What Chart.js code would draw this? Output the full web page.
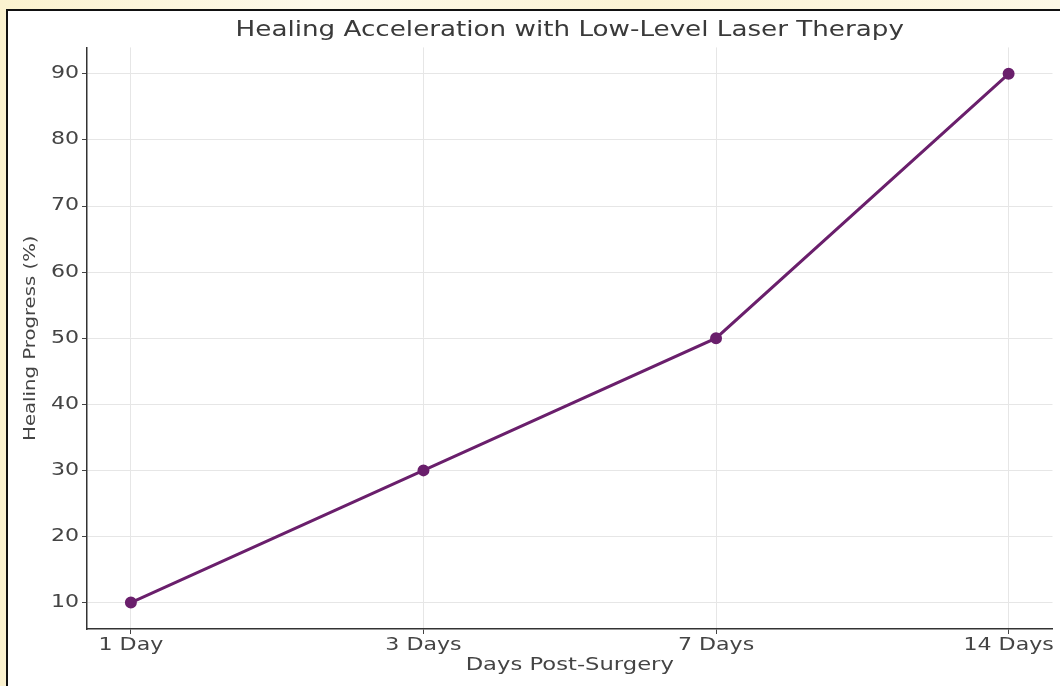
<!DOCTYPE html>
<html>
<head>
<meta charset="utf-8">
<script src="https://cdn.jsdelivr.net/npm/chart.js@4"></script>
<style>
  html, body { margin: 0; padding: 0; }
  body { width: 1060px; height: 686px; overflow: hidden; position: relative;
         background: linear-gradient(90deg, #fbf2cf 0%, #fdf9ea 30%, #fbf3d4 60%, #fdf8e6 100%); }
  #frame { position: absolute; left: 6px; top: 9px; width: 1100px; height: 800px;
           border: 2px solid #111; background: #fff; }
  #c { position: absolute; left: 0; top: 0; }
</style>
</head>
<body>
<div id="frame"></div>
<canvas id="c" width="1060" height="686"></canvas>
<script>
// data
const days = ["1 Day", "3 Days", "7 Days", "14 Days"];
const healing = [10, 30, 50, 90];
const yTicks = [10, 20, 30, 40, 50, 60, 70, 80, 90];

const lineColor = "#6a1f6c";
const font = "'DejaVu Sans', sans-serif";

// the reference text is stretched sideways; widen glyphs by font size
const stretchBySize = { 22: 1.19, 17: 1.3, 18: 1.26, 16: 1.23 };

const widerText = {
  id: "widerText",
  beforeInit(chart) {
    const ctx = chart.ctx;
    const fill = ctx.fillText;
    ctx.fillText = function (t, x, y, w) {
      const m = /(\d+(?:\.\d+)?)px/.exec(this.font);
      const sx = m ? stretchBySize[Math.round(+m[1])] || 1 : 1;
      this.save();
      this.translate(x, y);
      this.scale(sx, 1);
      fill.call(this, t, 0, 0);
      this.restore();
    };
  },
};

const points = healing.map((v, i) => ({ x: i, y: v }));

new Chart(document.getElementById("c"), {
  type: "line",
  data: {
    datasets: [{
      label: "Healing Progress",
      data: points,
      borderColor: lineColor,
      backgroundColor: lineColor,
      borderWidth: 3,
      pointRadius: 4.5,
      pointHoverRadius: 4.5,
      tension: 0,
    }],
  },
  plugins: [widerText],
  options: {
    responsive: false,
    animation: false,
    layout: { padding: { left: 0, right: 4, top: 0, bottom: 0 } },
    plugins: {
      legend: { display: false },
      tooltip: { enabled: false },
      title: {
        display: true,
        fullSize: false,
        text: "Healing Acceleration with Low-Level Laser Therapy",
        color: "#3a3a3a",
        font: { family: font, size: 22, weight: "normal" },
        padding: { top: 17, bottom: 4 },
      },
    },
    scales: {
      x: {
        type: "linear",
        min: -0.15,
        max: 3.15,
        afterBuildTicks: (s) => { s.ticks = days.map((_, i) => ({ value: i })); },
        afterFit: (s) => { s.height = 57; s.paddingLeft = 0; s.paddingRight = 0; },
        ticks: {
          callback: (v) => days[v],
          color: "#444",
          font: { family: font, size: 17 },
          padding: 1,
          maxRotation: 0,
        },
        grid: { color: "#e6e6e6", tickColor: "#444", tickLength: 5 },
        border: { color: "#333", width: 1.5 },
        title: {
          display: true,
          text: "Days Post-Surgery",
          color: "#444",
          font: { family: font, size: 18 },
          padding: { top: 0, bottom: 10 },
        },
      },
      y: {
        min: 6,
        max: 94,
        afterBuildTicks: (s) => { s.ticks = yTicks.map((v) => ({ value: v })); },
        afterFit: (s) => { s.width = 87; },
        ticks: {
          color: "#444",
          font: { family: font, size: 17 },
          padding: 3,
        },
        grid: { color: "#e6e6e6", tickColor: "#444", tickLength: 5 },
        border: { color: "#333", width: 1.5 },
        title: {
          display: true,
          text: "Healing Progress (%)",
          color: "#444",
          font: { family: font, size: 16 },
          padding: { top: 21, bottom: 0 },
        },
      },
    },
  },
});
</script>
</body>
</html>
